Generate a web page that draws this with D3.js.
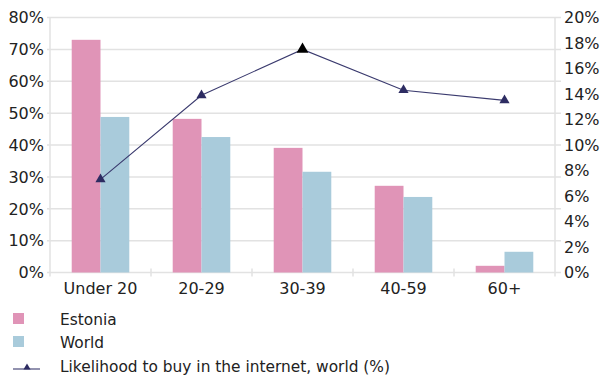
<!DOCTYPE html>
<html>
<head>
<meta charset="utf-8">
<script src="https://cdn.jsdelivr.net/npm/d3@7"></script>
<style>
  html, body { margin: 0; padding: 0; background: #fff; }
  svg { display: block; font-family: "DejaVu Sans", sans-serif; }
</style>
</head>
<body>
<svg id="chart" width="600" height="376"></svg>
<script>
// Age groups along the x axis
const categories = ["Under 20", "20-29", "30-39", "40-59", "60+"];
// Share of internet buyers per age group (%)
const estonia = [73, 48.2, 39.1, 27.2, 2.1];
const world = [48.8, 42.5, 31.6, 23.7, 6.5];
// Likelihood to buy in the internet, world (%), right axis
const likelihood = [7.3, 13.9, 17.5, 14.3, 13.5];
const leftTicks = [0, 10, 20, 30, 40, 50, 60, 70, 80];
const rightTicks = [0, 2, 4, 6, 8, 10, 12, 14, 16, 18, 20];
const seriesNames = ["Estonia", "World"];
const lineName = "Likelihood to buy in the internet, world (%)";

const colors = { Estonia: "#e094b7", World: "#a9cbdb" };
const lineColor = "#3a3a6e";
const markerColor = "#2d2c62";
const gridColor = "#e2e2e2";
const textColor = "#222";

const svg = d3.select("#chart");
const plot = { left: 50, right: 555, top: 17.5, bottom: 272.5 };

const x = d3.scaleBand().domain(categories).range([plot.left, plot.right]);
const bw = x.bandwidth();
const xi = d3.scaleBand().domain(seriesNames).range([bw * 0.215, bw * 0.785]);
const yL = d3.scaleLinear().domain([0, 80]).range([plot.bottom, plot.top]);
const yR = d3.scaleLinear().domain([0, 20]).range([plot.bottom, plot.top]);

// Horizontal gridlines at the left-axis ticks
svg.append("g").selectAll("line").data(leftTicks).join("line")
  .attr("x1", plot.left - 3).attr("x2", plot.right + 6)
  .attr("y1", d => yL(d)).attr("y2", d => yL(d))
  .attr("stroke", gridColor).attr("stroke-width", 1.5);

// Left and right axis lines
svg.append("line").attr("x1", plot.left).attr("x2", plot.left)
  .attr("y1", plot.top).attr("y2", plot.bottom + 4)
  .attr("stroke", gridColor).attr("stroke-width", 1.5);
svg.append("line").attr("x1", plot.right).attr("x2", plot.right)
  .attr("y1", plot.top).attr("y2", plot.bottom + 4)
  .attr("stroke", gridColor).attr("stroke-width", 1.5);

// Category separators on the baseline
svg.append("g").selectAll("line").data(categories.slice(1)).join("line")
  .attr("x1", d => x(d)).attr("x2", d => x(d))
  .attr("y1", plot.bottom - 4).attr("y2", plot.bottom + 4)
  .attr("stroke", gridColor).attr("stroke-width", 1.5);

// Left axis labels
svg.append("g").selectAll("text").data(leftTicks).join("text")
  .attr("x", 44).attr("y", d => yL(d))
  .attr("dy", "0.36em").attr("text-anchor", "end")
  .attr("font-size", 16).attr("fill", textColor)
  .text(d => d + "%");

// Right axis labels
svg.append("g").selectAll("text").data(rightTicks).join("text")
  .attr("x", 564).attr("y", d => yR(d))
  .attr("dy", "0.36em").attr("text-anchor", "start")
  .attr("font-size", 16).attr("fill", textColor)
  .text(d => d + "%");

// Category labels
svg.append("g").selectAll("text").data(categories).join("text")
  .attr("x", d => x(d) + bw / 2).attr("y", 288)
  .attr("dy", "0.36em").attr("text-anchor", "middle")
  .attr("font-size", 16).attr("fill", textColor)
  .text(d => d);

// Grouped bars
const rows = categories.map((c, i) => ({ cat: c, Estonia: estonia[i], World: world[i] }));
svg.append("g").selectAll("g").data(rows).join("g")
  .attr("transform", d => `translate(${x(d.cat)},0)`)
  .selectAll("rect")
  .data(d => seriesNames.map(s => ({ s, v: d[s] })))
  .join("rect")
  .attr("x", d => xi(d.s)).attr("width", xi.bandwidth())
  .attr("y", d => yL(d.v)).attr("height", d => yL(0) - yL(d.v))
  .attr("fill", d => colors[d.s]);

// Likelihood line with triangle markers
const pts = categories.map((c, i) => ({ cat: c, v: likelihood[i] }));
svg.append("path").datum(pts)
  .attr("fill", "none").attr("stroke", lineColor).attr("stroke-width", 1.1)
  .attr("d", d3.line().x(d => x(d.cat) + bw / 2).y(d => yR(d.v)));

const tri = d3.symbol().type(d3.symbolTriangle);
svg.append("g").selectAll("path").data(pts).join("path")
  .attr("transform", d => `translate(${x(d.cat) + bw / 2},${yR(d.v)})`)
  .attr("d", (d, i) => tri.size(i === 2 ? 60 : 45)())
  .attr("fill", (d, i) => i === 2 ? "#000" : markerColor);

// Legend
const lg = svg.append("g");
seriesNames.forEach((s, i) => {
  lg.append("rect").attr("x", 13).attr("y", 313 + i * 23)
    .attr("width", 11).attr("height", 11).attr("fill", colors[s]);
  lg.append("text").attr("x", 60).attr("y", 319 + i * 23)
    .attr("dy", "0.36em").attr("font-size", 15.4).attr("fill", textColor).text(s);
});
lg.append("line").attr("x1", 13).attr("x2", 40).attr("y1", 369).attr("y2", 369)
  .attr("stroke", lineColor).attr("stroke-width", 1.1);
lg.append("path").attr("transform", "translate(27,367.5)")
  .attr("d", d3.symbol().type(d3.symbolTriangle).size(22)())
  .attr("fill", markerColor);
lg.append("text").attr("x", 60).attr("y", 366)
  .attr("dy", "0.36em").attr("font-size", 15.4).attr("fill", textColor).text(lineName);
</script>
</body>
</html>
